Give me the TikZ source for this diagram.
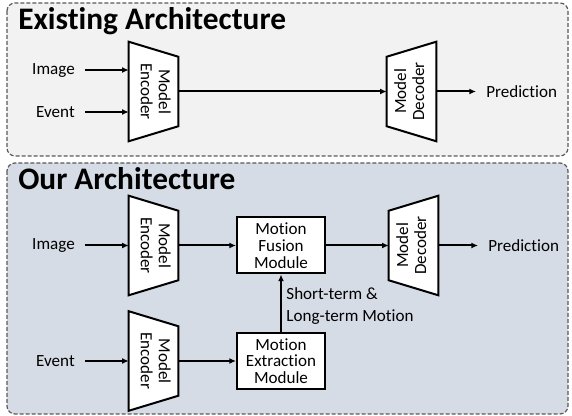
\documentclass[tikz,border=0pt]{standalone}
\usepackage{fontspec}
\setmainfont{Carlito}[Ligatures=NoCommon]
\usetikzlibrary{arrows.meta,calc,backgrounds}

\definecolor{toppanel}{HTML}{F2F2F2}
\definecolor{botpanel}{HTML}{D6DCE5}
\definecolor{panelline}{HTML}{595959}

\tikzset{
	panel/.style={draw=panelline, line width=0.9pt, dash pattern=on 3pt off 1.5pt, rounded corners=6pt},
	heading/.style={font=\fontsize{23.5}{23.5}\selectfont\bfseries, anchor=base west, inner sep=0},
	io/.style={font=\fontsize{12.8}{12.8}\selectfont, inner xsep=7.5pt},
	codec/.style={minimum width=36.75pt, minimum height=51.75pt, inner sep=0, font=\fontsize{12.8}{13.5}\selectfont},
	module/.style={draw, line width=1.5pt, fill=white, minimum width=66pt, minimum height=42pt,
		align=center, inner sep=0, font=\fontsize{12.8}{12.6}\selectfont},
	blk/.style={draw, line width=1.5pt, fill=white},
	flow/.style={line width=1.5pt, -{Latex[length=5pt,width=4.5pt]}}
}

% trapezoids round the codec nodes
\newcommand{\encshape}[1]{\draw[blk] ($(#1.north west)+(0,-15)$) -- (#1.north east) -- (#1.south east) -- ($(#1.south west)+(0,15)$) -- cycle;}
\newcommand{\decshape}[1]{\draw[blk] (#1.north west) -- ($(#1.north east)+(0,-15)$) -- ($(#1.south east)+(0,15)$) -- (#1.south west) -- cycle;}
\newcommand{\twolines}[2]{\begin{tabular}{@{}c@{}}#1\\#2\end{tabular}}

\begin{document}
\begin{tikzpicture}[x=0.75pt, y=-0.75pt]
	\useasboundingbox (0,0) rectangle (572,416);

	\begin{scope}[on background layer]
		\draw[panel, fill=toppanel] (7,3) rectangle (568,156);
		\draw[panel, fill=botpanel] (7,163) rectangle (568,414);
	\end{scope}

	% existing architecture
	\node[heading] (titleA) at (18,30) {Existing Architecture};
	\node[io, anchor=east] (imgA) at (85,70) {Image};
	\node[io, anchor=east] (evtA) at (85,112) {Event};
	\node[codec] (encA) at (153.5,91.5) {\rotatebox{-90}{\twolines{Model}{Encoder}}};
	\node[codec] (decA) at (411.5,91.5) {\rotatebox{90}{\twolines{Model}{Decoder}}};
	\node[io, anchor=west] (predA) at (476,91.5) {Prediction};

	\draw[flow] (imgA.east) -- (imgA.east -| encA.west);
	\draw[flow] (evtA.east) -- (evtA.east -| encA.west);
	\draw[flow] (encA.east) -- (decA.west);
	\draw[flow] (decA.east) -- (predA.west);

	% our architecture
	\node[heading] (titleB) at (18,190) {Our Architecture};
	\node[io, anchor=east] (imgB) at (85,245.5) {Image};
	\node[io, anchor=east] (evtB) at (85,361) {Event};
	\node[codec] (encB) at (153.5,245.5) {\rotatebox{-90}{\twolines{Model}{Encoder}}};
	\node[codec] (encC) at (153.5,361) {\rotatebox{-90}{\twolines{Model}{Encoder}}};
	\node[module] (fusion) at (281,245.5) {Motion\\Fusion\\Module};
	\node[module] (extract) at (281,361) {Motion\\Extraction\\Module};
	\node[codec] (decB) at (413.5,245.5) {\rotatebox{90}{\twolines{Model}{Decoder}}};
	\node[io, anchor=west] (predB) at (478,245.5) {Prediction};

	\draw[flow] (imgB.east) -- (encB.west);
	\draw[flow] (encB.east) -- (fusion.west);
	\draw[flow] (fusion.east) -- (decB.west);
	\draw[flow] (decB.east) -- (predB.west);
	\draw[flow] (evtB.east) -- (encC.west);
	\draw[flow] (encC.east) -- (extract.west);
	\draw[flow] (extract.north) -- (fusion.south)
		node[midway, right, yshift=-2pt, align=left, font=\fontsize{12.8}{16}\selectfont] (motion) {Short-term \&\\Long-term Motion};

	\begin{scope}[on background layer]
		\encshape{encA}
		\encshape{encB}
		\encshape{encC}
		\decshape{decA}
		\decshape{decB}
	\end{scope}
\end{tikzpicture}
\end{document}
